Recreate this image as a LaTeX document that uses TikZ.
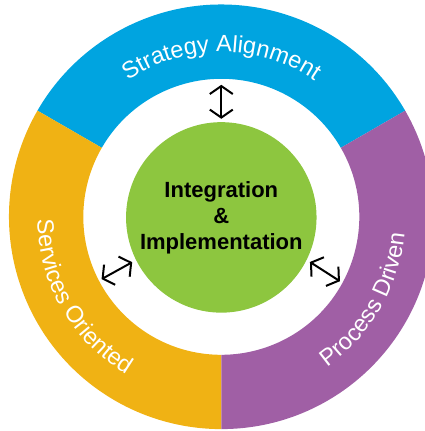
\documentclass[tikz,border=0pt]{standalone}
\usepackage{fontspec}
\setmainfont{Liberation Sans}
\usetikzlibrary{arrows.meta,decorations.text}
\definecolor{segblue}{RGB}{0,164,224}
\definecolor{seggold}{RGB}{240,178,20}
\definecolor{segpurple}{RGB}{160,95,165}
\definecolor{coregreen}{RGB}{141,198,63}
\newcommand\ringfont{\fontsize{23.5}{28}\selectfont}
\newcommand\corefont{\fontsize{22}{26}\bfseries\selectfont}
\begin{document}
\begin{tikzpicture}[x=1pt,y=1pt,
  dbl/.style={{Straight Barb[length=8pt,width=23pt]}-{Straight Barb[length=8pt,width=23pt]}, line width=2pt, black},
  ringtext/.style={decorate, decoration={text along path, text align=center, text color=white, text={|\ringfont|#1}}}]
\useasboundingbox (0,0) rectangle (425,-431);
\clip (0,0) rectangle (425,-431);
\begin{scope}[shift={(221.3,-216.8)}]
  % ring segments
  \fill[segblue] (30:212.3) arc[start angle=30,end angle=150,radius=212.3]
     -- (150:138) arc[start angle=150,end angle=30,radius=138] -- cycle;
  \fill[seggold] (150:212.3) arc[start angle=150,end angle=270,radius=212.3]
     -- (270:138) arc[start angle=270,end angle=150,radius=138] -- cycle;
  \fill[segpurple] (270:212.3) arc[start angle=270,end angle=390,radius=212.3]
     -- (30:138) arc[start angle=30,end angle=-90,radius=138] -- cycle;
  % ring labels
  \path[ringtext={Strategy Alignment}] (150:165) arc[start angle=150,end angle=30,radius=165];
  \path[ringtext={Services Oriented}] (150:184) arc[start angle=150,end angle=270,radius=184];
  \path[ringtext={Process Driven}] (270:184) arc[start angle=270,end angle=390,radius=184];
  % core
  \node[circle, fill=coregreen, minimum size=190.5pt, inner sep=0pt, align=center, font=\corefont] (core) at (0,-0.6) {Integration\\\&\\Implementation};
  % arrow end points
  \coordinate (topin) at (90:98);
  \coordinate (topout) at (90:132);
  \coordinate (leftin) at (207:100);
  \coordinate (leftout) at (207.5:135);
  \coordinate (rightin) at (333:99.5);
  \coordinate (rightout) at (331.5:135);
  \draw[dbl] (topin) -- (topout);
  \draw[dbl] (leftin) -- (leftout);
  \draw[dbl] (rightin) -- (rightout);
\end{scope}
\end{tikzpicture}
\end{document}
